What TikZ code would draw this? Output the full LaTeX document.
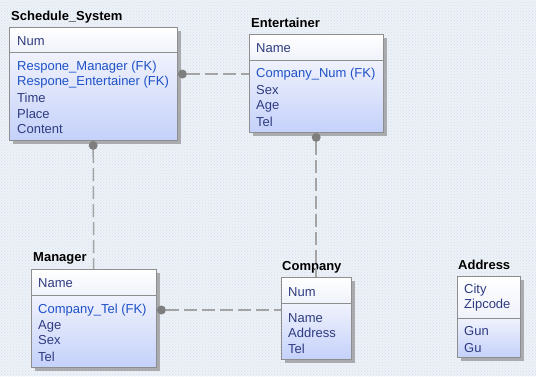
\documentclass[tikz,border=0pt]{standalone}
\usepackage{fontspec}
\setmainfont{Liberation Sans}
\usetikzlibrary{calc,patterns,shadows}

\definecolor{canvas}{HTML}{EDF2F8}
\definecolor{canvasdot}{HTML}{D6DEE9}
\definecolor{boxline}{HTML}{8E8E8E}
\definecolor{boxshadow}{HTML}{A9ABAE}
\definecolor{headlow}{HTML}{F0F2FB}
\definecolor{bodytop}{HTML}{F0F2FC}
\definecolor{bodylow}{HTML}{C4D1FA}
\definecolor{fieldtext}{HTML}{2E3B80}
\definecolor{fktext}{HTML}{1F52C8}
\definecolor{relline}{HTML}{A4A4A4}
\definecolor{reldot}{HTML}{7E7E7E}

\tikzset{
    headbox/.style = {
        draw = boxline, top color = white, bottom color = headlow,
        anchor = north west, inner sep = 0pt,
        drop shadow = {shadow xshift = 4pt, shadow yshift = -4pt,
                       fill = boxshadow, opacity = 1}
    },
    bodybox/.style = {
        draw = boxline, top color = bodytop, bottom color = bodylow,
        anchor = north west, inner sep = 0pt,
        drop shadow = {shadow xshift = 4pt, shadow yshift = -4pt,
                       fill = boxshadow, opacity = 1}
    },
    title/.style = {
        anchor = west, inner sep = 0pt,
        font = \fontsize{13}{15}\selectfont\bfseries
    },
    field/.style = {
        anchor = west, inner sep = 0pt, text = fieldtext,
        font = \fontsize{13}{15}\selectfont
    },
    fkfield/.style = {field, text = fktext},
    relation/.style = {
        draw = relline, line width = 1.5pt,
        dash pattern = on 13pt off 5pt
    },
    relend/.style = {
        circle, fill = reldot, inner sep = 0pt, minimum size = 9pt
    }
}

\begin{document}
\begin{tikzpicture}[x = 1pt, y = -1pt]

        % Canvas with its faint dot grid.
        \fill[canvas] (0, 0) rectangle (536, 376);
        \fill[pattern = crosshatch dots, pattern color = canvasdot]
            (0, 0) rectangle (536, 376);
        \useasboundingbox (0, 0) rectangle (536, 376);

        % Table bodies (key part on top, attributes below).
        \node[headbox, minimum width = 168, minimum height = 25] (schedH) at (9, 27) {};
        \node[bodybox, minimum width = 168, minimum height = 88] (schedB) at (9, 52) {};

        \node[headbox, minimum width = 134, minimum height = 26] (entH) at (249, 34) {};
        \node[bodybox, minimum width = 134, minimum height = 72] (entB) at (249, 60) {};

        \node[headbox, minimum width = 125, minimum height = 26] (mgrH) at (31, 269) {};
        \node[bodybox, minimum width = 125, minimum height = 72] (mgrB) at (31, 295) {};

        \node[headbox, minimum width = 70, minimum height = 26] (comH) at (281, 277) {};
        \node[bodybox, minimum width = 70, minimum height = 56] (comB) at (281, 303) {};

        \node[headbox, minimum width = 63, minimum height = 42] (addrH) at (457, 276) {};
        \node[bodybox, minimum width = 63, minimum height = 39] (addrB) at (457, 318) {};

        % Table names.
        \node[title] (schedT) at (11, 17) {Schedule\_System};
        \node[title] (entT)   at (251, 23) {Entertainer};
        \node[title] (mgrT)   at (33, 258) {Manager};
        \node[title] (comT)   at (282, 267) {Company};
        \node[title] (addrT)  at (458, 265) {Address};

        % Fields of Schedule_System.
        \node[field]   (sNum)  at (17, 41)  {Num};
        \node[fkfield] (sRM)   at (17, 67)  {Respone\_Manager (FK)};
        \node[fkfield] (sRE)   at (17, 82)  {Respone\_Entertainer (FK)};
        \node[field]   (sTime) at (17, 98)  {Time};
        \node[field]   (sPl)   at (17, 114) {Place};
        \node[field]   (sCon)  at (17, 129) {Content};

        % Fields of Entertainer.
        \node[field]   (eName) at (256, 48)  {Name};
        \node[fkfield] (eCN)   at (256, 74)  {Company\_Num (FK)};
        \node[field]   (eSex)  at (256, 90)  {Sex};
        \node[field]   (eAge)  at (256, 106) {Age};
        \node[field]   (eTel)  at (256, 122) {Tel};

        % Fields of Manager.
        \node[field]   (mName) at (38, 283) {Name};
        \node[fkfield] (mCT)   at (38, 310) {Company\_Tel (FK)};
        \node[field]   (mAge)  at (38, 326) {Age};
        \node[field]   (mSex)  at (38, 340) {Sex};
        \node[field]   (mTel)  at (38, 357) {Tel};

        % Fields of Company.
        \node[field] (cNum)  at (288, 292) {Num};
        \node[field] (cName) at (288, 318) {Name};
        \node[field] (cAddr) at (288, 333) {Address};
        \node[field] (cTel)  at (288, 349) {Tel};

        % Fields of Address.
        \node[field] (aCity) at (464, 290) {City};
        \node[field] (aZip)  at (464, 305) {Zipcode};
        \node[field] (aGun)  at (464, 331) {Gun};
        \node[field] (aGu)   at (464, 348) {Gu};

        % Relationship ends.
        \node[relend] (schedEnt) at ($(schedB.east |- eCN) + (5, 0)$) {};
        \node[relend] (schedMgr) at ($(schedB.south) + (0, 5)$) {};
        \node[relend] (entCom)   at ($(entB.south) + (0, 5)$) {};
        \node[relend] (mgrCom)   at ($(mgrB.east |- mCT) + (5, 0)$) {};

        % Relationships.
        \draw[relation] (schedEnt) -- (entB.west |- eCN);
        \draw[relation] (schedMgr) -- (mgrH.north);
        \draw[relation] (entCom) -- (comH.north);
        \draw[relation] (mgrCom) -- (comB.west |- mCT);
\end{tikzpicture}
\end{document}
